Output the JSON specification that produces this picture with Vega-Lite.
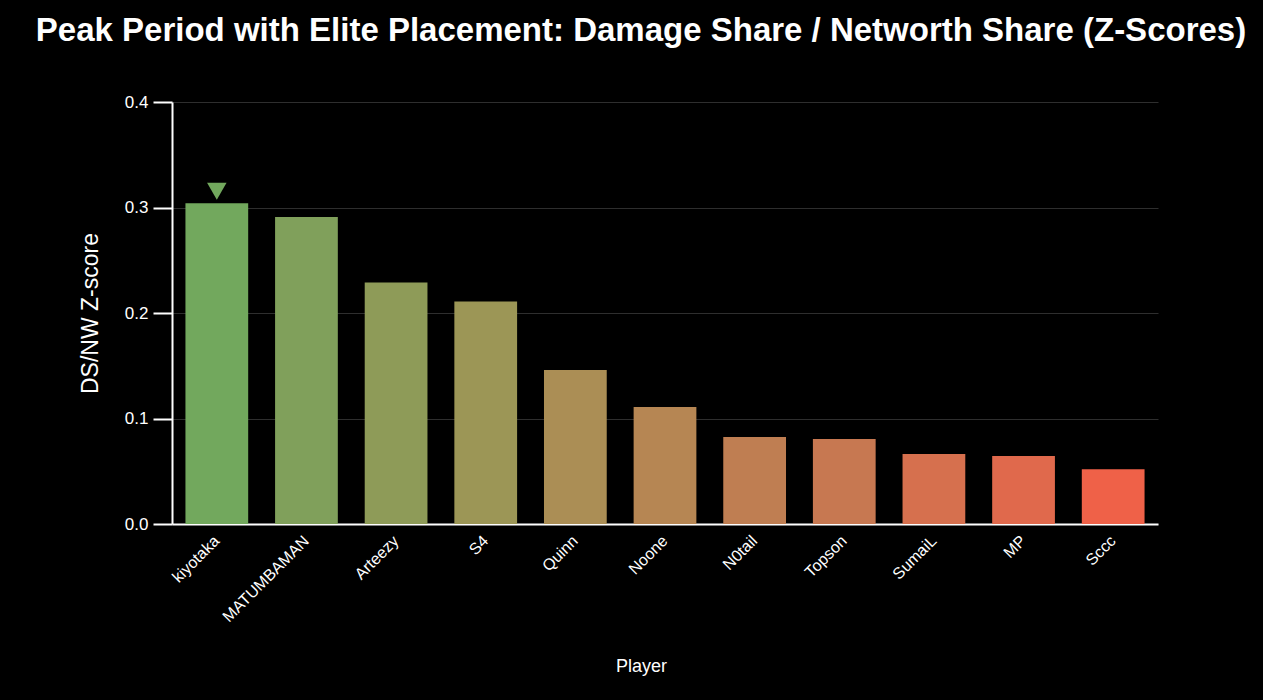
{
  "$schema": "https://vega.github.io/schema/vega-lite/v6.json",
  "width": 986,
  "height": 422,
  "autosize": {"type": "none"},
  "padding": {"left": 172, "top": 102, "right": 105, "bottom": 176},
  "background": "#000000",
  "view": {"stroke": null},
  "title": {
    "text": "Peak Period with Elite Placement: Damage Share / Networth Share (Z-Scores)",
    "font": "Liberation Sans",
    "fontSize": 33,
    "fontWeight": "bold",
    "color": "#ffffff",
    "anchor": "middle",
    "dx": -24,
    "offset": 45
  },
  "data": {
    "values": [
      {"Player": "kiyotaka", "zscore": 0.304, "top": true},
      {"Player": "MATUMBAMAN", "zscore": 0.291, "top": false},
      {"Player": "Arteezy", "zscore": 0.229, "top": false},
      {"Player": "S4", "zscore": 0.211, "top": false},
      {"Player": "Quinn", "zscore": 0.146, "top": false},
      {"Player": "Noone", "zscore": 0.111, "top": false},
      {"Player": "N0tail", "zscore": 0.0825, "top": false},
      {"Player": "Topson", "zscore": 0.0806, "top": false},
      {"Player": "SumaiL", "zscore": 0.0664, "top": false},
      {"Player": "MP", "zscore": 0.0645, "top": false},
      {"Player": "Sccc", "zscore": 0.052, "top": false}
    ]
  },
  "encoding": {
    "x": {
      "field": "Player",
      "type": "nominal",
      "sort": null,
      "title": "Player",
      "scale": {"paddingInner": 0.3, "paddingOuter": 0.15},
      "axis": {
        "labelAngle": -45,
        "labelAlign": "right",
        "labelBaseline": "middle",
        "labelColor": "#ffffff",
        "labelFont": "Liberation Sans",
        "labelFontSize": 16,
        "ticks": false,
        "labelPadding": 14,
        "domainColor": "#ffffff",
        "domainWidth": 2,
        "titleColor": "#ffffff",
        "titleFont": "Liberation Sans",
        "titleFontSize": 18,
        "titleFontWeight": "normal",
        "titleX": 469,
        "titlePadding": 33
      }
    },
    "y": {
      "field": "zscore",
      "type": "quantitative",
      "title": "DS/NW Z-score",
      "scale": {"domain": [0, 0.4]},
      "axis": {
        "values": [0, 0.1, 0.2, 0.3, 0.4],
        "format": ".1f",
        "labelColor": "#ffffff",
        "labelFont": "Liberation Sans",
        "labelFontSize": 17,
        "labelPadding": 5,
        "tickColor": "#ffffff",
        "tickSize": 19,
        "tickWidth": 2,
        "domainColor": "#ffffff",
        "domainWidth": 2,
        "gridColor": "#2e2e2e",
        "gridWidth": 1,
        "titleColor": "#ffffff",
        "titleFont": "Liberation Sans",
        "titleFontSize": 23,
        "titleFontWeight": "normal",
        "titlePadding": 22
      }
    }
  },
  "layer": [
    {
      "mark": {"type": "bar"},
      "encoding": {
        "color": {
          "field": "Player",
          "type": "nominal",
          "sort": null,
          "legend": null,
          "scale": {
            "domain": ["kiyotaka", "MATUMBAMAN", "Arteezy", "S4", "Quinn", "Noone", "N0tail", "Topson", "SumaiL", "MP", "Sccc"],
            "range": ["#72a85d", "#80a05b", "#8e9b58", "#9c9656", "#ab8e55", "#b68653", "#bf7e52", "#c77851", "#d6704e", "#e0694c", "#ef6148"]
          }
        }
      }
    },
    {
      "transform": [{"filter": "datum.top"}],
      "mark": {"type": "point", "shape": "triangle-down", "filled": true, "size": 380, "color": "#72a85d", "opacity": 1, "yOffset": -12},
      "encoding": {}
    }
  ]
}
